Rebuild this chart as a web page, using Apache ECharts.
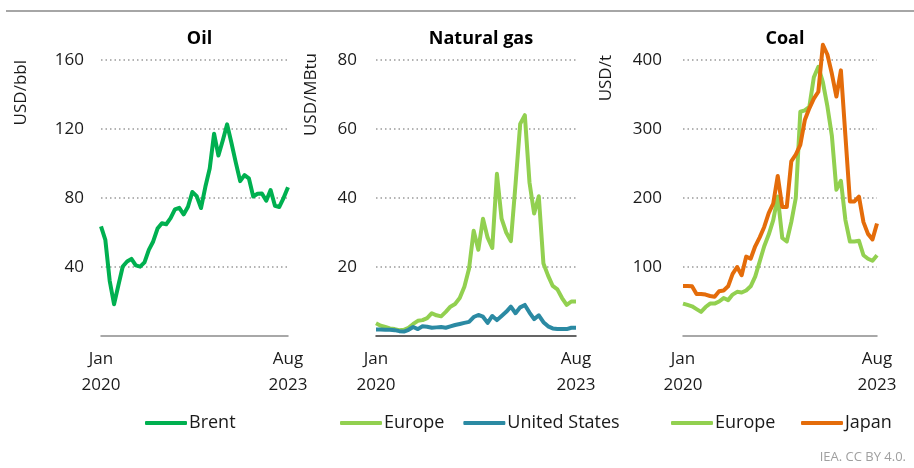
<!DOCTYPE html>
<html><head><meta charset="utf-8">
<script src="https://cdn.jsdelivr.net/npm/echarts@6/dist/echarts.min.js"></script>
<style>html,body{margin:0;padding:0;background:#fff}#c{width:914px;height:468px}</style>
</head><body><div id="c"></div>
<script>
const months = ['2020-01','2020-02','2020-03','2020-04','2020-05','2020-06','2020-07','2020-08','2020-09','2020-10','2020-11','2020-12',
'2021-01','2021-02','2021-03','2021-04','2021-05','2021-06','2021-07','2021-08','2021-09','2021-10','2021-11','2021-12',
'2022-01','2022-02','2022-03','2022-04','2022-05','2022-06','2022-07','2022-08','2022-09','2022-10','2022-11','2022-12',
'2023-01','2023-02','2023-03','2023-04','2023-05','2023-06','2023-07','2023-08'];
const xTickLabels = {'2020-01':'Jan\n2020','2023-08':'Aug\n2023'};
const brent = [63.6,55.7,32.0,18.4,29.4,40.3,43.2,44.7,40.9,40.2,42.7,49.9,54.8,62.3,65.4,64.8,68.3,73.4,74.3,70.5,74.9,83.5,81.1,74.2,86.5,97.1,117.3,104.6,113.3,122.7,111.9,100.5,89.8,93.3,91.4,80.9,82.5,82.6,78.4,84.6,75.5,74.8,80.1,86.2];
const gasEurope = [3.7,3.0,2.6,2.2,2.0,1.7,1.8,2.4,3.5,4.4,4.6,5.2,6.6,6.0,5.7,7.0,8.5,9.3,11.0,14.3,19.5,30.5,25.0,34.0,28.5,25.5,47.0,34.0,30.0,27.5,44.0,61.5,64.0,44.5,35.5,40.5,21.0,17.5,14.5,13.5,11.0,9.0,10.0,10.0];
const gasUS = [1.9,1.9,1.8,1.8,1.7,1.4,1.3,1.8,2.6,2.0,2.8,2.7,2.4,2.5,2.6,2.4,2.8,3.2,3.5,3.8,4.1,5.5,6.1,5.6,3.8,5.8,4.6,5.8,7.0,8.5,6.6,8.3,9.0,6.8,4.9,6.0,4.0,2.8,2.2,2.0,2.0,2.0,2.4,2.4];
const coalEurope = [47,45,43,39,35,42,47,47,50,55,52,60,64,63,66,72,86,108,130,147,168,202,142,137,165,200,325,327,332,375,390,368,333,290,212,225,168,137,137,138,117,112,109,117];
const coalJapan = [72.5,72.5,72,61,61,60,58,57,65,66,72,90,100,88,115,112,130,143,158,178,192,232,187,187,253,263,277,313,330,344,354,422,408,380,347,385,290,195,195,202,165,148,140,163];
const panelTitles = ['Oil','Natural gas','Coal'];
const yNames = ['USD/bbl','USD/MBtu','USD/t'];
const yMax = [160,80,400];
const yInterval = [40,20,100];

const FONT = 'Open Sans';
const grids = [
  {left:101, top:60, width:187, height:276},
  {left:376, top:60, width:200, height:276},
  {left:683, top:60, width:194, height:276}
];
const axisLineColors = ['#8c8c8c','#333333','#8c8c8c'];
const yLabelMargins = [17,19,21];
const xAxes = grids.map((g,i)=>({
  type:'category', gridIndex:i, data:months, boundaryGap:false,
  axisTick:{show:false},
  axisLine:{lineStyle:{color:axisLineColors[i], width:1.5}},
  axisLabel:{interval:(idx)=>idx===0||idx===months.length-1, formatter:(v)=>xTickLabels[v]||'',
    fontFamily:FONT, fontSize:17, color:'#1a1a1a', lineHeight:26, margin:10}
}));
const yAxes = grids.map((g,i)=>({
  type:'value', gridIndex:i, min:0, max:yMax[i], interval:yInterval[i],
  axisLine:{show:false}, axisTick:{show:false},
  axisLabel:{formatter:(v)=>v===0?'':String(v), fontFamily:FONT, fontSize:17, color:'#1a1a1a', margin:yLabelMargins[i]},
  splitLine:{show:true, showMinLine:false, lineStyle:{color:'#9a9a9a', width:1.5, type:[1.5,3]}}
}));
function ln(name, data, color, gi){
  return {type:'line', name, data, xAxisIndex:gi, yAxisIndex:gi, symbol:'none', smooth:false, clip:false,
    lineStyle:{color, width:4, join:'round'}, itemStyle:{color}};
}
const series = [
  ln('Brent', brent, '#00b050', 0),
  ln('Europe', gasEurope, '#92d050', 1),
  ln('United States', gasUS, '#2b8aa3', 1),
  ln('Europe ', coalEurope, '#92d050', 2),
  ln('Japan', coalJapan, '#e46c0a', 2)
];
function legend(left, data, gap){
  return {left, top:414, padding:0, data, icon:'roundRect', itemWidth:42, itemHeight:4, itemGap:gap,
    textStyle:{fontFamily:FONT, fontSize:18, color:'#1a1a1a', padding:[0,0,0,-3]}, selectedMode:false};
}
const yNamePos = [[21.5,60],[311.5,53],[606,55]];
const graphic = [
  {type:'line', shape:{x1:6,y1:11,x2:914,y2:11}, style:{stroke:'#a6a6a6', lineWidth:2}},
  ...yNames.map((t,i)=>({type:'text', x:yNamePos[i][0], y:yNamePos[i][1], rotation:Math.PI/2,
    style:{text:t, fontFamily:FONT, fontSize:17, fill:'#1a1a1a', align:'right', verticalAlign:'middle'}})),
  {type:'text', right:8, top:451, style:{text:'IEA. CC BY 4.0.', fontFamily:FONT, fontSize:13, fill:'#a0a0a0'}}
];
const chart = echarts.init(document.getElementById('c'), null, {renderer:'canvas'});
chart.setOption({
  animation:false,
  title: panelTitles.map((t,i)=>({text:t, left:grids[i].left+grids[i].width/2, top:25, textAlign:'center',
    textStyle:{fontFamily:FONT, fontSize:18, fontWeight:'bold', color:'#000'}})),
  grid: grids, xAxis: xAxes, yAxis: yAxes, series,
  legend: [legend(145,['Brent'],10), legend(340,['Europe','United States'],19), legend(671,['Europe ','Japan'],21)],
  graphic
});
</script></body></html>
